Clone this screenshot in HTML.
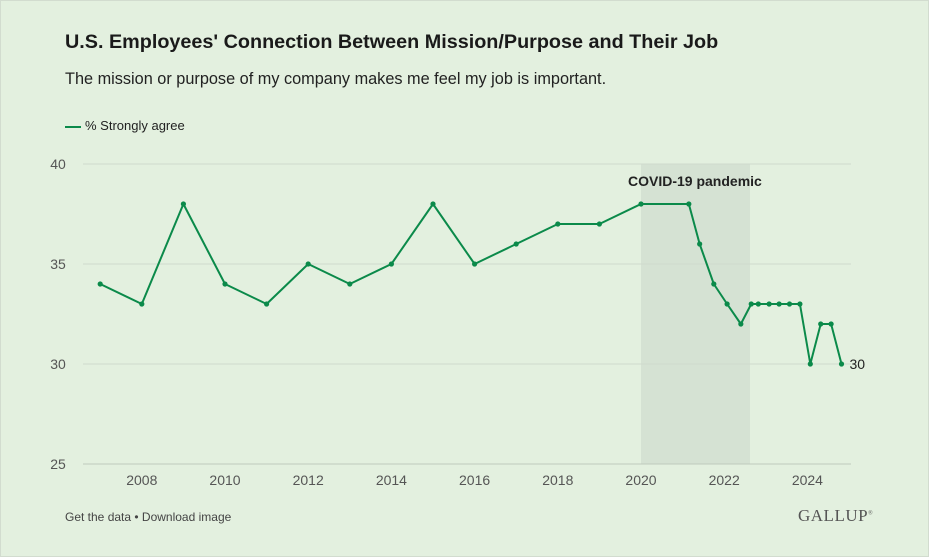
<!DOCTYPE html>
<html><head><meta charset="utf-8"><style>
html,body{margin:0;padding:0;background:#fff}
#card{position:absolute;left:0;top:0;width:927px;height:555px;background:#e3f0df;border:1px solid #d2dccf;font-family:"Liberation Sans",sans-serif;color:#1a1a1a}
#title{position:absolute;left:64px;top:30px;font-size:19.8px;font-weight:bold}
#sub{position:absolute;left:64px;top:69px;font-size:16.3px;color:#222}
#legend{position:absolute;left:64px;top:117px;font-size:13px;color:#222}
#legend span.sw{display:inline-block;width:16px;height:2px;background:#0b8a4a;vertical-align:middle;margin-right:4px}
#foot{position:absolute;left:64px;top:509px;font-size:12px;color:#444}
#gallup{position:absolute;left:797px;top:505px;font-family:"Liberation Serif",serif;font-size:17px;color:#555;letter-spacing:0.5px}
svg{position:absolute;left:0;top:0}
</style></head><body>
<div id="card">
<div id="title">U.S. Employees' Connection Between Mission/Purpose and Their Job</div>
<div id="sub">The mission or purpose of my company makes me feel my job is important.</div>
<div id="legend"><span class="sw"></span>% Strongly agree</div>
<svg id="chart" width="929" height="557"></svg>
<div id="foot">Get the data • Download image</div>
<div id="gallup">GALLUP<sup style="font-size:6px">®</sup></div>
</div>
<script>
const years=[2007,2008,2009,2010,2011,2012,2013,2014,2015,2016,2017,2018,2019,2020,2021.15,2021.41,2021.75,2022.07,2022.4,2022.65,2022.82,2023.08,2023.32,2023.57,2023.82,2024.07,2024.32,2024.57,2024.82];
const values=[34,33,38,34,33,35,34,35,38,35,36,37,37,38,38,36,34,33,32,33,33,33,33,33,33,30,32,32,30];
const yTicks=[25,30,35,40];
const xTicks=[2008,2010,2012,2014,2016,2018,2020,2022,2024];
const shade=[2020,2022.62];
const NS="http://www.w3.org/2000/svg";
const svg=document.getElementById('chart');
const xs=v=>640+(v-2020)*41.6;
const ys=v=>163+(40-v)*20;
function mk(t,a){const e=document.createElementNS(NS,t);for(const k in a)e.setAttribute(k,a[k]);svg.appendChild(e);return e;}
const sh=mk('rect',{x:xs(shade[0]),y:ys(40),width:xs(shade[1])-xs(shade[0]),height:ys(25)-ys(40),fill:'#d5e2d3'});


const st=mk('text',{x:627,y:185,'font-size':14,'font-weight':'bold',fill:'#222','font-family':'Liberation Sans, sans-serif'});
st.textContent='COVID-19 pandemic';


yTicks.forEach(t=>{
 const g=mk('line',{x1:82,x2:850,y1:ys(t),y2:ys(t),stroke:t===25?'#bfcabc':'#cfdacc','stroke-width':1});
 
 
 const l=mk('text',{x:57,y:ys(t)+5,'font-size':14,fill:'#555','text-anchor':'middle','font-family':'Liberation Sans, sans-serif'});
 l.textContent=t;
 
 
});
xTicks.forEach(t=>{
 const l=mk('text',{x:xs(t),y:484,'font-size':14,fill:'#555','text-anchor':'middle','font-family':'Liberation Sans, sans-serif'});
 l.textContent=t;
 
 
});
const pl=mk('polyline',{points:years.map((y,i)=>xs(y)+','+ys(values[i])).join(' '),fill:'none',stroke:'#0b8a4a','stroke-width':2,'stroke-linejoin':'round'});


years.forEach((y,i)=>{
 const c=mk('circle',{cx:xs(y),cy:ys(values[i]),r:2.6,fill:'#0b8a4a'});
 
 
});
const n=years.length-1;
const el=mk('text',{x:xs(years[n])+8,y:ys(values[n])+5,'font-size':14,fill:'#222','font-family':'Liberation Sans, sans-serif'});
el.textContent=values[n];


</script>
</body></html>
